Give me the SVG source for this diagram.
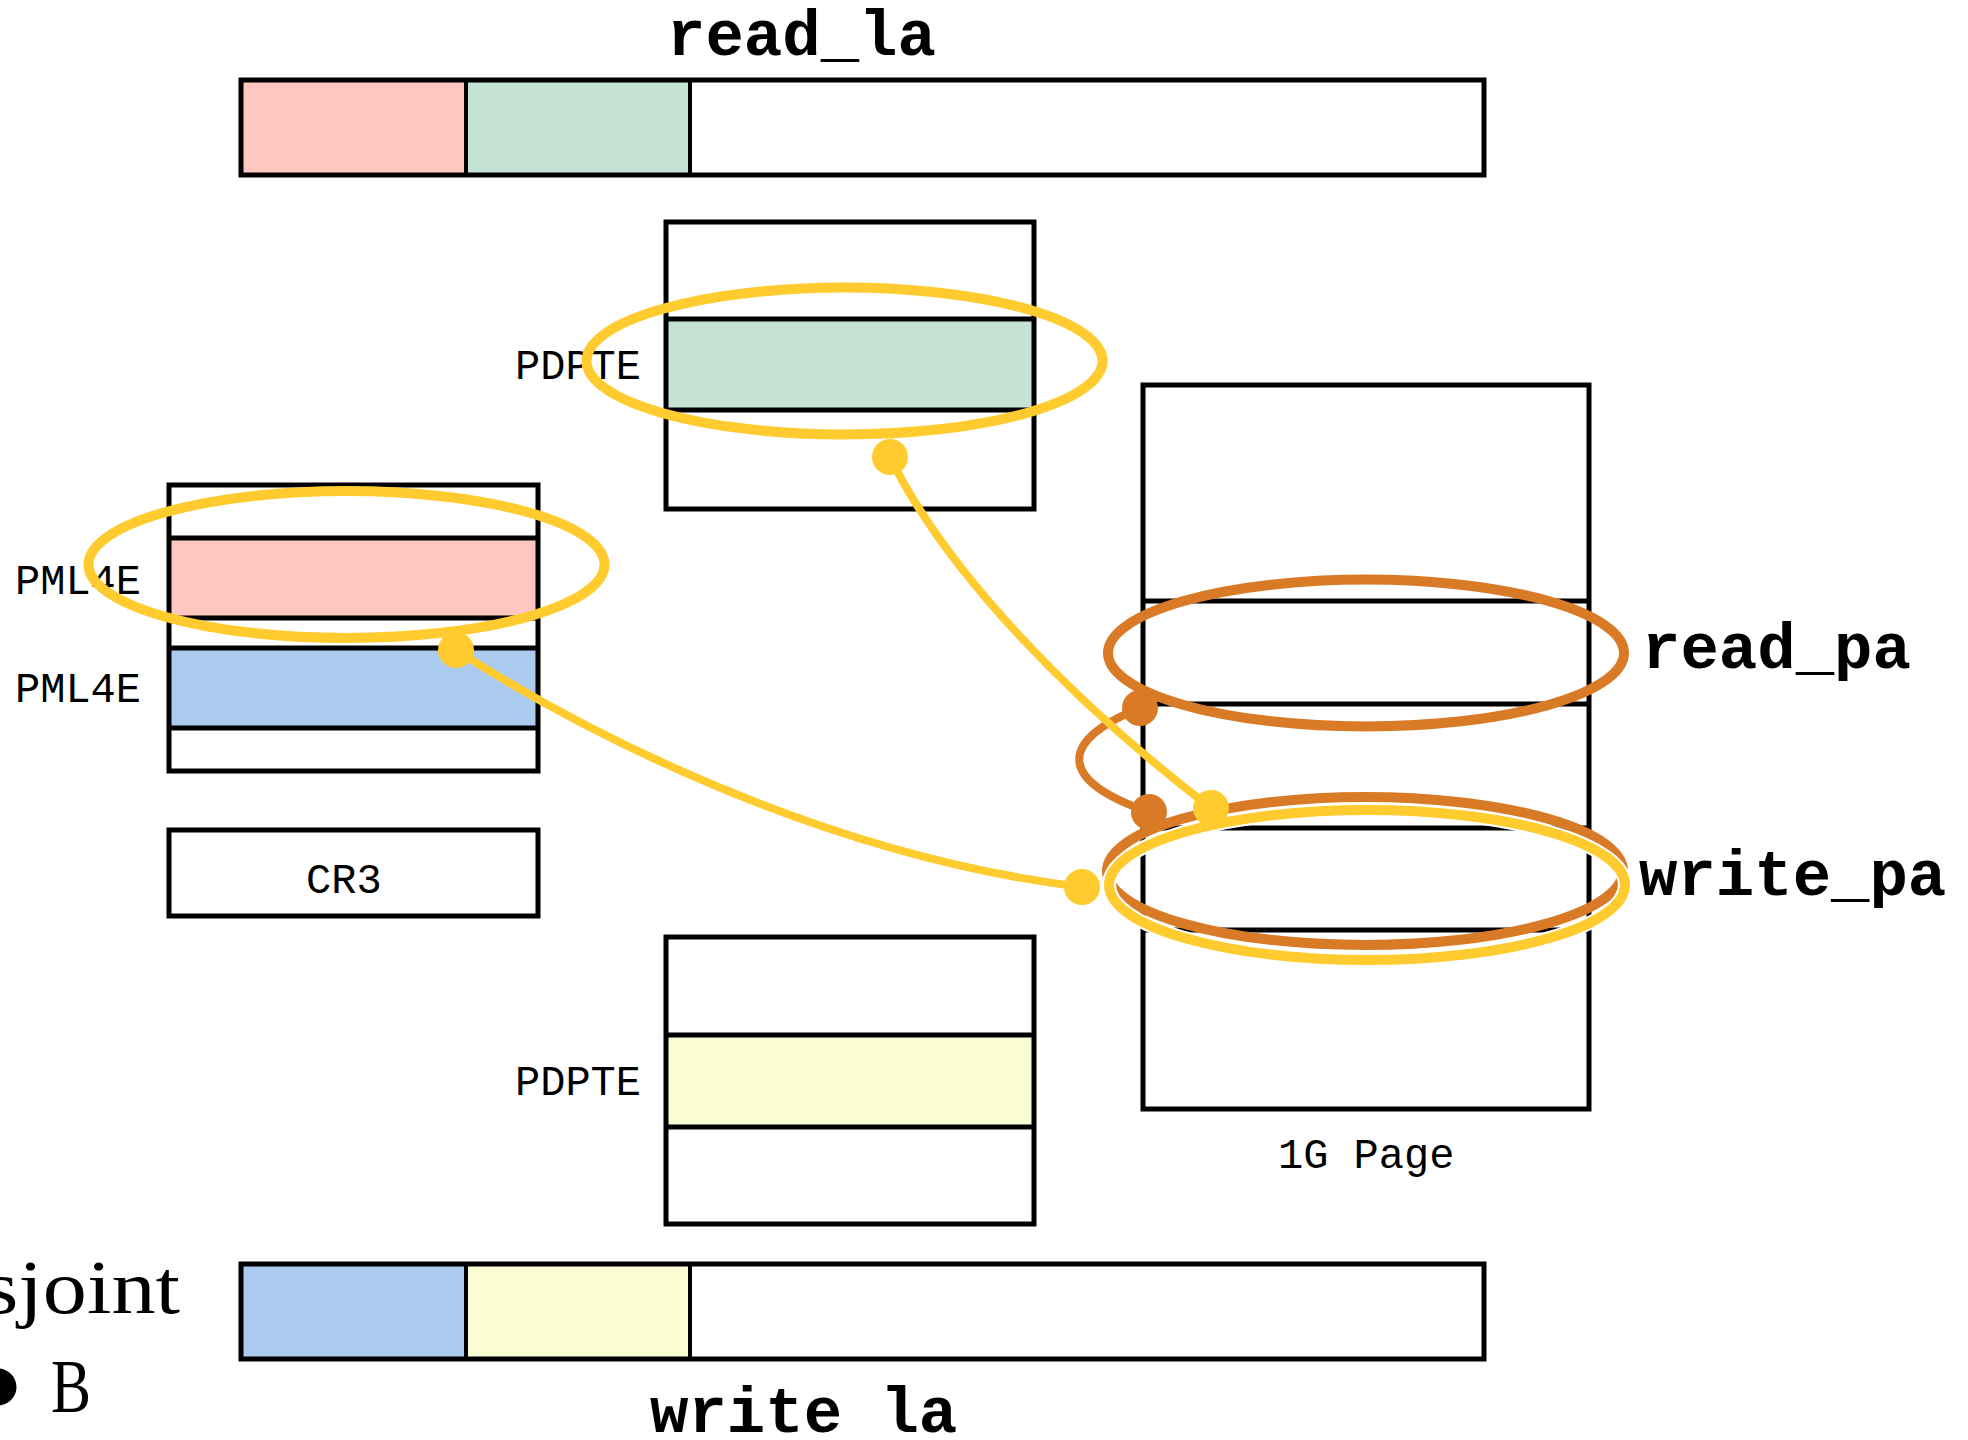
<svg xmlns="http://www.w3.org/2000/svg" width="1968" height="1440" viewBox="0 0 1968 1440">
  <style>
    .frame { fill: none; stroke: #000; stroke-width: 5; }
    .rule { stroke: #000; stroke-width: 5; }
    .thin { stroke: #000; stroke-width: 4; }
    .pink { fill: #FFC7C0; }
    .green { fill: #C4E3D5; }
    .blue { fill: #ABCBEE; }
    .cream { fill: #FAFDD2; }
    .white { fill: #FFFFFF; }
    .lbl { font-family: "Liberation Mono", "DejaVu Sans Mono", monospace; font-size: 42px; fill: #000; }
    .big { font-family: "Liberation Mono", "DejaVu Sans Mono", monospace; font-weight: bold; font-size: 64px; fill: #000; }
    .slide { font-family: "Liberation Serif", "DejaVu Serif", serif; font-size: 76px; fill: #000; }
    .ring-y { fill: none; stroke: #FFCB2F; stroke-width: 10; }
    .ring-o { fill: none; stroke: #D97A26; stroke-width: 10; }
    .halo { fill: none; stroke: #FFFFFF; stroke-width: 14; }
    .link-y { fill: none; stroke: #FFCB2F; stroke-width: 8; stroke-linecap: round; }
    .link-o { fill: none; stroke: #D97A26; stroke-width: 8; stroke-linecap: round; }
    .dot-y { fill: #FFCB2F; }
    .dot-o { fill: #D97A26; }
  </style>

  <rect x="0" y="0" width="1968" height="1440" fill="#FFFFFF"/>

  <!-- background slide text, partly cut off at the left edge -->
  <g id="slide-text">
    <text class="slide" x="-16" y="1313" textLength="196" lengthAdjust="spacingAndGlyphs">sjoint</text>
    <circle cx="-2" cy="1387" r="18.5" fill="#000"/>
    <text class="slide" x="51" y="1412" textLength="40" lengthAdjust="spacingAndGlyphs">B</text>
  </g>

  <!-- linear address used by the read -->
  <g id="read_la">
    <rect class="pink" x="241" y="80" width="225" height="95"/>
    <rect class="green" x="466" y="80" width="224" height="95"/>
    <rect class="white" x="690" y="80" width="794" height="95"/>
    <line class="thin" x1="466" y1="80" x2="466" y2="175"/>
    <line class="thin" x1="690" y1="80" x2="690" y2="175"/>
    <rect class="frame" x="241" y="80" width="1243" height="95"/>
    <text class="big" x="667" y="55">read_la</text>
  </g>

  <!-- linear address used by the write (label runs off the bottom edge) -->
  <g id="write_la">
    <rect class="blue" x="241" y="1264" width="225" height="95"/>
    <rect class="cream" x="466" y="1264" width="224" height="95"/>
    <rect class="white" x="690" y="1264" width="794" height="95"/>
    <line class="thin" x1="466" y1="1264" x2="466" y2="1359"/>
    <line class="thin" x1="690" y1="1264" x2="690" y2="1359"/>
    <rect class="frame" x="241" y="1264" width="1243" height="95"/>
    <text class="big" x="650" y="1432">write la</text>
  </g>

  <!-- PML4 table -->
  <g id="pml4">
    <rect class="white" x="169" y="485" width="369" height="286"/>
    <rect class="pink" x="169" y="538" width="369" height="80"/>
    <rect class="blue" x="169" y="648" width="369" height="80"/>
    <line class="rule" x1="169" y1="538" x2="538" y2="538"/>
    <line class="rule" x1="169" y1="618" x2="538" y2="618"/>
    <line class="rule" x1="169" y1="648" x2="538" y2="648"/>
    <line class="rule" x1="169" y1="728" x2="538" y2="728"/>
    <rect class="frame" x="169" y="485" width="369" height="286"/>
    <text class="lbl" x="141" y="594" text-anchor="end">PML4E</text>
    <text class="lbl" x="141" y="702" text-anchor="end">PML4E</text>
  </g>

  <!-- CR3 register -->
  <g id="cr3">
    <rect class="white" x="169" y="830" width="369" height="86"/>
    <rect class="frame" x="169" y="830" width="369" height="86"/>
    <text class="lbl" x="306" y="893">CR3</text>
  </g>

  <!-- PDPT reached by the read -->
  <g id="pdpt_read">
    <rect class="white" x="666" y="222" width="368" height="287"/>
    <rect class="green" x="666" y="319" width="368" height="91"/>
    <line class="rule" x1="666" y1="319" x2="1034" y2="319"/>
    <line class="rule" x1="666" y1="410" x2="1034" y2="410"/>
    <rect class="frame" x="666" y="222" width="368" height="287"/>
    <text class="lbl" x="641" y="379" text-anchor="end">PDPTE</text>
  </g>

  <!-- PDPT reached by the write -->
  <g id="pdpt_write">
    <rect class="white" x="666" y="937" width="368" height="287"/>
    <rect class="cream" x="666" y="1035" width="368" height="92"/>
    <line class="rule" x1="666" y1="1035" x2="1034" y2="1035"/>
    <line class="rule" x1="666" y1="1127" x2="1034" y2="1127"/>
    <rect class="frame" x="666" y="937" width="368" height="287"/>
    <text class="lbl" x="641" y="1095" text-anchor="end">PDPTE</text>
  </g>

  <!-- 1G physical page -->
  <g id="page_1g">
    <rect class="white" x="1143" y="385" width="446" height="724"/>
    <line class="rule" x1="1143" y1="601" x2="1589" y2="601"/>
    <line class="rule" x1="1143" y1="704" x2="1589" y2="704"/>
    <line class="rule" x1="1143" y1="828" x2="1589" y2="828"/>
    <line class="rule" x1="1143" y1="930" x2="1589" y2="930"/>
    <rect class="frame" x="1143" y="385" width="446" height="724"/>
    <text class="lbl" x="1278" y="1168">1G Page</text>
  </g>

  <!-- physical address labels -->
  <g id="read_pa">
    <text class="big" x="1642" y="668">read_pa</text>
  </g>
  <g id="write_pa">
    <text class="big" x="1639" y="895">write_pa</text>
  </g>

  <!-- highlight rings -->
  <g id="rings">
    <ellipse class="ring-o" cx="1366" cy="653" rx="258" ry="73.5"/>
    <ellipse class="ring-o" cx="1365" cy="871" rx="258" ry="74"/>
    <ellipse class="ring-y" cx="346.5" cy="564.5" rx="258" ry="73.5"/>
    <ellipse class="ring-y" cx="844.5" cy="361" rx="258" ry="73.5"/>
  </g>

  <!-- connectors -->
  <g id="connectors">
    <path class="link-o" d="M1140,708 C1060,740 1055,780 1149,812"/>
    <circle class="dot-o" cx="1140" cy="708" r="18"/>
    <circle class="dot-o" cx="1149" cy="812" r="18"/>

    <ellipse class="halo" cx="1367" cy="885" rx="258" ry="75"/>
    <ellipse class="ring-y" cx="1367" cy="885" rx="258" ry="75"/>

    <path class="link-y" d="M890,457 C945,570 1070,700 1211,808"/>
    <circle class="dot-y" cx="890" cy="457" r="18"/>
    <circle class="dot-y" cx="1211" cy="808" r="18"/>

    <path class="link-y" d="M456,650 C580,730 820,855 1082,887"/>
    <circle class="dot-y" cx="456" cy="650" r="18"/>
    <circle class="dot-y" cx="1082" cy="887" r="18"/>
  </g>
</svg>
